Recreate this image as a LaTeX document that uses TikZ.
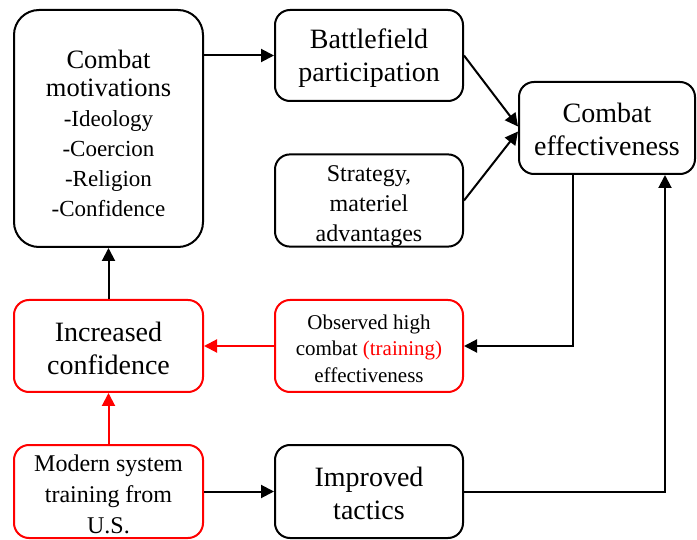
\documentclass[tikz,border=0pt]{standalone}
\usepackage{fontspec}
\setmainfont{Liberation Serif}
\usetikzlibrary{arrows.meta}
\newcommand{\topstrut}[1]{\rule{0pt}{#1}}
\begin{document}
\begin{tikzpicture}[x=1pt,y=-1pt,
  box/.style={draw, line width=2pt, rounded corners=15pt, align=center, inner sep=0pt, fill=white},
  redbox/.style={box, draw=red},
  big/.style={font=\fontsize{28}{33}\selectfont},
  mid/.style={font=\fontsize{24}{30}\selectfont},
  small/.style={font=\fontsize{21}{26.5}\selectfont},
  arr/.style={line width=2pt, -{Triangle[length=13pt,width=13pt]}},
  redarr/.style={arr, draw=red}]
\useasboundingbox (0,0) rectangle (697,540);
\node[box, rounded corners=25pt, minimum width=189pt, minimum height=237pt,
      font=\fontsize{23}{30}\selectfont] (A) at (108.5,128.5)
  {\fontsize{26.5}{29}\selectfont\topstrut{29pt}Combat\\[-2pt]\fontsize{26.5}{29}\selectfont motivations\\-Ideology\\-Coercion\\-Religion\\-Confidence};
\node[box, big, minimum width=188pt, minimum height=91pt] (B) at (369,55.5) {\topstrut{25pt}Battlefield\\participation};
\node[box, mid, minimum width=188pt, minimum height=91pt] (C) at (369,200.5) {\topstrut{27pt}Strategy,\\materiel\\advantages};
\node[box, big, minimum width=176pt, minimum height=92pt] (D) at (607,128) {\topstrut{22pt}Combat\\effectiveness};
\node[redbox, big, minimum width=189pt, minimum height=92pt] (E) at (108.5,346) {\topstrut{25pt}Increased\\confidence};
\node[redbox, small, minimum width=188pt, minimum height=92pt] (F) at (369,346) {\topstrut{20pt}Observed high\\combat \textcolor{red}{(training)}\\effectiveness};
\node[redbox, font=\fontsize{24}{31}\selectfont, minimum width=189pt, minimum height=93pt] (G) at (108.5,491.5) {\topstrut{22.5pt}Modern system\\training from\\U.S.};
\node[box, big, minimum width=188pt, minimum height=93pt] (H) at (369,491.5) {\topstrut{23pt}Improved\\tactics};
\draw[arr] (A.east |- B.west) -- (B.west);
\draw[arr] (B.east) -- ([yshift=1.5pt]D.west);
\draw[arr] (C.east) -- ([yshift=-3.5pt]D.west);
\draw[arr] ([xshift=-34pt]D.south) |- (F.east);
\draw[arr] (H.east) -| ([xshift=58pt]D.south);
\draw[redarr] (F.west) -- (E.east);
\draw[redarr] (G.north) -- (E.south);
\draw[arr] (E.north) -- (A.south);
\draw[arr] (G.east) -- (H.west);
\end{tikzpicture}
\end{document}
